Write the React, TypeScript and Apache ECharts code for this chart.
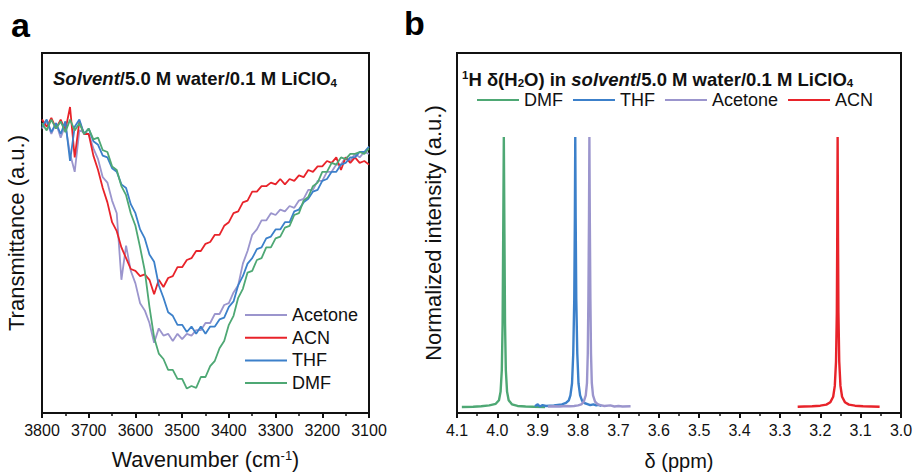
import React, { useEffect, useRef } from "react";
import * as echarts from "echarts";

// ---------- Panel a: FTIR ----------
const wavenumbers = [
  3800, 3790, 3780, 3770, 3760, 3750, 3740, 3730, 3720, 3710,
  3700, 3690, 3680, 3670, 3660, 3650, 3640, 3630, 3620, 3610,
  3600, 3590, 3580, 3570, 3560, 3550, 3540, 3530, 3520, 3510,
  3500, 3490, 3480, 3470, 3460, 3450, 3440, 3430, 3420, 3410,
  3400, 3390, 3380, 3370, 3360, 3350, 3340, 3330, 3320, 3310,
  3300, 3290, 3280, 3270, 3260, 3250, 3240, 3230, 3220, 3210,
  3200, 3190, 3180, 3170, 3160, 3150, 3140, 3130, 3120, 3110, 3100,
];

const ftirAcetone = [
  79, 81, 77.5, 80.5, 76.5, 80, 72, 67, 78.5, 78,
  77.5, 73.5, 70.5, 65.5, 64, 59, 55.5, 37, 46.5, 39.5,
  36, 30.5, 28.5, 25, 19.5, 23.5, 21.5, 22, 20, 22,
  20.5, 22, 21.5, 23, 23, 25, 25, 27.5, 27.5, 30,
  30.5, 33.5, 35.5, 41.5, 45, 49.5, 51, 53.5, 53.5, 55.5,
  55, 56.5, 56, 57.5, 57, 59, 59.5, 62, 62, 64.5,
  64.5, 67, 67, 69, 69, 71, 70, 72, 71, 72.5, 72,
];

const ftirACN = [
  81.5, 79.5, 82, 79, 81.5, 78.5, 85, 71, 81, 77.5,
  77.5, 71.5, 67.5, 62.5, 58.5, 53, 50.5, 46, 43, 40,
  39.5, 38, 38.5, 37, 33, 37, 35, 37.5, 38, 40.5,
  40.5, 42.5, 43, 45, 45, 47, 47.5, 49.5, 49.5, 52,
  53, 55.5, 56, 58.5, 59, 61.5, 61.5, 63, 63, 64,
  63.5, 65, 63.5, 65, 64.5, 66, 65.5, 67.5, 67, 68.5,
  68.5, 70, 69.5, 71, 67.5, 71, 69.5, 71, 69.5, 70, 69,
];

const ftirTHF = [
  79.5, 81.5, 78, 80.5, 77.5, 81, 70, 79.5, 81.5, 77.5,
  79, 75.5, 74.5, 71.5, 71, 68, 67, 63.5, 62.5, 58,
  55.5, 51, 48.5, 44, 42, 35.5, 32, 28, 27, 24.5,
  24.5, 22.5, 24, 22, 24, 22, 24, 24, 26, 26.5,
  29.5, 31, 35.5, 38, 41.5, 43, 45.5, 46, 48.5, 49,
  51, 51, 53, 53, 56, 56.5, 58.5, 59.5, 61.5, 62,
  64.5, 65, 67, 67, 69, 69.5, 71, 71, 72.5, 72.5, 74,
];

const ftirDMF = [
  80.5, 78.5, 81.5, 79, 81, 78, 81.5, 78.5, 80.5, 77.5,
  79, 76, 76.5, 73, 72.5, 68.5, 67.5, 63, 60.5, 55.5,
  52, 46, 39.5, 29.5, 21, 16.5, 15, 12, 12, 9.5,
  9.5, 6.8, 7.5, 7, 10, 10, 13, 14.5, 18, 20,
  24.5, 27, 32, 34.5, 39, 39.5, 42.5, 43, 46, 46,
  48.5, 49, 51.5, 52, 55, 55.5, 59, 60, 63, 64,
  67, 67, 69.5, 69, 71, 70.5, 72, 72, 72.5, 72, 73.5,
];

// ---------- Panel b: 1H NMR (ppm, normalized intensity) ----------
const nmrDMF: [number, number][] = [
  [4.088, 0.002], [4.06, 0.003], [4.04, 0.005], [4.02, 0.008], [4.004, 0.014],
  [3.996, 0.027], [3.992, 0.059], [3.989, 0.138], [3.987, 0.31], [3.9855, 0.64],
  [3.984, 1.0], [3.9825, 0.64], [3.981, 0.31], [3.979, 0.138], [3.976, 0.059],
  [3.972, 0.027], [3.964, 0.012], [3.95, 0.006], [3.93, 0.004], [3.91, 0.003], [3.882, 0.002],
];

const nmrTHF: [number, number][] = [
  [3.907, 0.005], [3.9, 0.012], [3.895, 0.004], [3.888, 0.009], [3.88, 0.006],
  [3.87, 0.007], [3.86, 0.008], [3.85, 0.01], [3.84, 0.012], [3.83, 0.017],
  [3.823, 0.027], [3.819, 0.045], [3.815, 0.09], [3.812, 0.2], [3.8095, 0.4],
  [3.808, 0.7], [3.807, 1.0], [3.806, 0.7], [3.8045, 0.4], [3.802, 0.2],
  [3.799, 0.09], [3.795, 0.045], [3.79, 0.025], [3.783, 0.016], [3.775, 0.012],
  [3.77, 0.009], [3.762, 0.012], [3.755, 0.008], [3.75, 0.01], [3.742, 0.006],
];

const nmrAcetone: [number, number][] = [
  [3.875, 0.004], [3.86, 0.005], [3.845, 0.004], [3.83, 0.006], [3.82, 0.005],
  [3.81, 0.006], [3.8, 0.008], [3.792, 0.012], [3.786, 0.022], [3.781, 0.045],
  [3.778, 0.09], [3.776, 0.2], [3.7745, 0.4], [3.773, 0.7], [3.772, 1.0],
  [3.771, 0.7], [3.7695, 0.4], [3.768, 0.2], [3.766, 0.09], [3.763, 0.045],
  [3.758, 0.022], [3.752, 0.013], [3.745, 0.009], [3.735, 0.006], [3.72, 0.008],
  [3.71, 0.004], [3.7, 0.006], [3.69, 0.004], [3.67, 0.005],
];

const nmrACN: [number, number][] = [
  [3.256, 0.003], [3.24, 0.004], [3.22, 0.005], [3.2, 0.007], [3.185, 0.011],
  [3.175, 0.02], [3.168, 0.04], [3.164, 0.08], [3.161, 0.17], [3.159, 0.35],
  [3.158, 0.62], [3.157, 1.0], [3.156, 0.62], [3.155, 0.35], [3.153, 0.17],
  [3.15, 0.08], [3.146, 0.04], [3.139, 0.02], [3.129, 0.011], [3.114, 0.007],
  [3.094, 0.005], [3.074, 0.004], [3.053, 0.003],
];

const legendA = ["Acetone", "ACN", "THF", "DMF"];
const legendB = ["DMF", "THF", "Acetone", "ACN"];

const COLORS: Record<string, string> = {
  DMF: "#4ea874",
  THF: "#3c80ca",
  Acetone: "#9b95cd",
  ACN: "#e8232a",
};

const FONT = "'Liberation Sans', Arial, Helvetica, sans-serif";
const INK = "#111";

export default function App() {
  const ref = useRef<HTMLDivElement>(null);

  useEffect(() => {
    if (!ref.current) return;
    const chart = echarts.init(ref.current, null, { renderer: "svg" });
    const zip = (ys: number[]) => wavenumbers.map((w, i) => [w, ys[i]]);

    const axisLine = { show: true, onZero: false, lineStyle: { color: INK, width: 2 } };
    const axisTick = { show: true, inside: false, length: 5, lineStyle: { color: INK, width: 2 } };
    const minorTick = { show: true, splitNumber: 2, length: 3, lineStyle: { color: INK, width: 1.5 } };
    const nameStyle = (size: number, lh: number) => ({
      fontSize: size,
      fontFamily: FONT,
      color: INK,
      lineHeight: lh,
      rich: {
        sup: { fontSize: 13, lineHeight: 13, verticalAlign: "top", fontFamily: FONT, color: INK },
      },
    });
    const labelStyle = { color: INK, fontSize: 16, fontFamily: FONT, margin: 9, showMinLabel: true, showMaxLabel: true };

    const ftirSeries = [
      ["Acetone", ftirAcetone],
      ["ACN", ftirACN],
      ["THF", ftirTHF],
      ["DMF", ftirDMF],
    ].map(([name, ys]) => ({
      name: name as string,
      type: "line",
      xAxisIndex: 0,
      yAxisIndex: 0,
      data: zip(ys as number[]),
      symbol: "none",
      showSymbol: false,
      lineStyle: { width: 1.8, color: COLORS[name as string] },
      itemStyle: { color: COLORS[name as string] },
    }));

    const nmrSeries = [
      ["DMF", nmrDMF],
      ["THF", nmrTHF],
      ["Acetone", nmrAcetone],
      ["ACN", nmrACN],
    ].map(([name, d]) => ({
      name: name as string,
      type: "line",
      xAxisIndex: 1,
      yAxisIndex: 1,
      data: d as [number, number][],
      symbol: "none",
      showSymbol: false,
      lineStyle: { width: 2.4, color: COLORS[name as string] },
      itemStyle: { color: COLORS[name as string] },
    }));

    const legendText = { fontSize: 18, fontFamily: FONT, color: INK, lineHeight: 18 };

    const titleRich = {
      b: { fontSize: 18.5, fontWeight: "bold", fontFamily: FONT, fill: INK, lineHeight: 20 },
      i: { fontSize: 18.5, fontWeight: "bold", fontStyle: "italic", fontFamily: FONT, fill: INK, lineHeight: 20 },
      s: { fontSize: 11.5, fontWeight: "bold", fontFamily: FONT, fill: INK, lineHeight: 12, verticalAlign: "bottom" },
      p: { fontSize: 11.5, fontWeight: "bold", fontFamily: FONT, fill: INK, lineHeight: 12, verticalAlign: "top" },
    };

    chart.setOption({
      animation: false,
      backgroundColor: "#fff",
      grid: [
        { left: 42, top: 53, width: 327, height: 360, show: true, borderColor: INK, borderWidth: 2, backgroundColor: "transparent", containLabel: false, outerBoundsMode: "none" },
        { left: 457, top: 53, width: 444, height: 360, show: true, borderColor: INK, borderWidth: 2, backgroundColor: "transparent", containLabel: false, outerBoundsMode: "none" },
      ],
      xAxis: [
        {
          gridIndex: 0,
          type: "value",
          min: 3100,
          max: 3800,
          interval: 100,
          inverse: true,
          axisLine,
          axisTick,
          minorTick,
          splitLine: { show: false },
          minorSplitLine: { show: false },
          axisLabel: { ...labelStyle, formatter: (v: number) => String(v) },
          name: "Wavenumber (cm{sup|-1})",
          nameLocation: "middle",
          nameGap: 36,
          nameTextStyle: nameStyle(21.5, 22),
        },
        {
          gridIndex: 1,
          type: "value",
          min: 3.0,
          max: 4.1,
          interval: 0.1,
          inverse: true,
          axisLine,
          axisTick,
          minorTick,
          splitLine: { show: false },
          minorSplitLine: { show: false },
          axisLabel: { ...labelStyle, formatter: (v: number) => v.toFixed(1) },
          name: "δ (ppm)",
          nameLocation: "middle",
          nameGap: 37,
          nameTextStyle: nameStyle(20, 21),
        },
      ],
      yAxis: [
        {
          gridIndex: 0,
          type: "value",
          min: 0,
          max: 100,
          axisLine,
          axisTick: { show: false },
          axisLabel: { show: false },
          splitLine: { show: false },
          name: "Transmittance (a.u.)",
          nameLocation: "middle",
          nameGap: 13,
          nameTextStyle: nameStyle(22, 26),
        },
        {
          gridIndex: 1,
          type: "value",
          min: -0.02,
          max: 1.31,
          axisLine,
          axisTick: { show: false },
          axisLabel: { show: false },
          splitLine: { show: false },
          name: "Normalized intensity (a.u.)",
          nameLocation: "middle",
          nameGap: 11,
          nameTextStyle: nameStyle(22, 26),
        },
      ],
      legend: [
        {
          orient: "vertical",
          left: 245,
          top: 306,
          padding: 0,
          itemWidth: 42,
          itemHeight: 2,
          itemGap: 4.7,
          icon: "rect",
          selectedMode: false,
          data: legendA,
          textStyle: legendText,
        },
        {
          orient: "horizontal",
          left: 477,
          top: 91,
          padding: 0,
          itemWidth: 42,
          itemHeight: 2,
          itemGap: 10,
          icon: "rect",
          selectedMode: false,
          data: legendB,
          textStyle: legendText,
        },
      ],
      graphic: [
        { type: "text", left: 11, top: 8, style: { text: "a", font: `bold 34px ${FONT}`, fill: "#000" } },
        { type: "text", left: 404, top: 6, style: { text: "b", font: `bold 34px ${FONT}`, fill: "#000" } },
        {
          type: "text",
          left: 53,
          top: 69,
          style: { text: "{i|Solvent}{b|/5.0 M water/0.1 M LiClO}{s|4}", rich: titleRich },
        },
        {
          type: "text",
          left: 462,
          top: 69,
          style: { text: "{p|1}{b|H δ(H}{s|2}{b|O) in }{i|solvent}{b|/5.0 M water/0.1 M LiClO}{s|4}", rich: titleRich },
        },
      ],
      series: [...ftirSeries, ...nmrSeries],
    });

    return () => chart.dispose();
  }, []);

  return (
    <div
      ref={ref}
      style={{ position: "fixed", left: 0, top: 0, width: 915, height: 472, background: "#fff" }}
    />
  );
}
